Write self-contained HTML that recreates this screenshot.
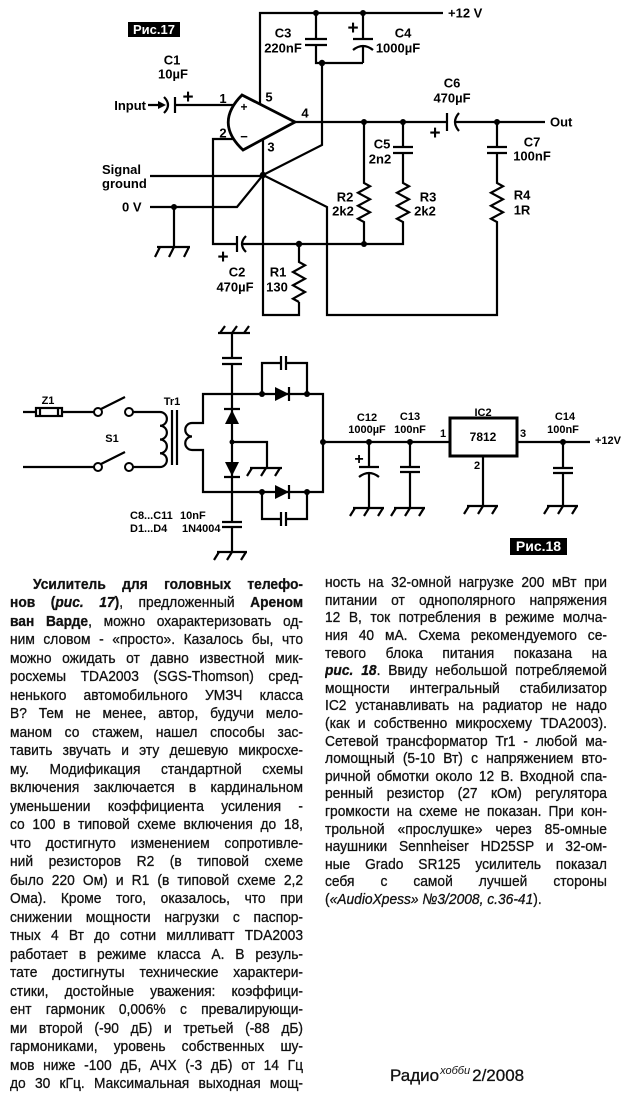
<!DOCTYPE html>
<html>
<head>
<meta charset="utf-8">
<style>
html,body{margin:0;padding:0;background:#fff;}
body{width:630px;height:1100px;position:relative;overflow:hidden;}
svg{position:absolute;left:0;top:0;}
.col{position:absolute;transform:scaleX(0.92);transform-origin:0 0;font-family:"Liberation Sans","DejaVu Sans",sans-serif;font-size:15px;color:#111;-webkit-text-stroke:0.3px #111;}
.col div{height:var(--lh);line-height:var(--lh);overflow:hidden;text-align:justify;text-align-last:justify;white-space:normal;}
.col div.last{text-align-last:left;}
#lc{left:10px;top:575.75px;width:318.5px;--lh:18.5px;}
#rc{left:325px;top:574.2px;width:306.5px;--lh:17.6px;}
.ind{text-indent:25px;}
#foot{position:absolute;left:390px;top:1066px;font-family:"Liberation Sans",sans-serif;font-size:17px;line-height:20px;color:#111;white-space:nowrap;-webkit-text-stroke:0.3px #111;}
#foot i{font-size:11px;position:relative;top:-7px;margin:0 2px 0 1px;-webkit-text-stroke:0;}
</style>
</head>
<body>
<svg width="630" height="570" viewBox="0 0 630 570" xmlns="http://www.w3.org/2000/svg">
<g stroke="#000" stroke-width="2.2" fill="none">
<!-- FIG 17 -->
<path d="M260,103 V13 H443"/>
<path d="M316,13 V39 M305,39 H327 M305,45 H327 M316,45 V63 H363"/>
<path d="M363,13 V39 M353,39 H373 M353,50 Q363,42 373,50 M363,46 V63"/>
<path d="M322,63 V145 L263,175"/>
<path d="M263,140 V315 H299 V302"/>
<path d="M299,244 V262 L305,265.3 L293,272 L305,278.7 L293,285.3 L305,292 L293,298.7 L299,302"/>
<path d="M295,122 H447 M447,113 V131 M459,113 Q451,122 459,131 M455,122 H545"/>
<path d="M364,122 V183 L370,186.3 L358,192.8 L370,199.3 L358,205.8 L370,212.3 L358,218.8 L364,222 V244"/>
<path d="M403,122 V147 M393,147 H413 M393,153 H413 M403,153 V183 L409,186.3 L397,192.8 L409,199.3 L397,205.8 L409,212.3 L397,218.8 L403,222 V244 H242"/>
<path d="M237,236 V252 M246,236 Q238,244 246,252 M237,244 H213 V139 H236"/>
<path d="M148,105 H160 M164,97 Q172,105 164,113 M175,97 V113 M175,105 H234"/>
<path d="M497,122 V147 M487,147 H507 M487,153 H507 M497,153 V183 L503,186.3 L491,192.8 L503,199.3 L491,205.8 L503,212.3 L491,218.8 L497,222 V315 H327 V207 L263,175"/>
<path d="M150,176 H263"/>
<path d="M150,207 H237 L263,175"/>
<path d="M174,207 V247 M157,247 H190 M160,247 l-5,10 M174,247 l-5,10 M189,247 l-5,10"/>
<path d="M242,95 L295,122 L243,150 Q214,123 242,95 Z" stroke-width="2.8" fill="#fff"/>

<!-- FIG 18 -->
<path d="M232,333 V358 M222,358 H242 M222,364 H242 M232,364 V394"/>
<path d="M218,333 H250 M220,333 l5,-7 M232,333 l5,-7 M244,333 l5,-7"/>
<path d="M192,423 H203 V394 H323 V492 H203 V450 H192"/>
<path d="M192,423 a6.75,6.75 0 0 0 0,13.5 a6.75,6.75 0 0 0 0,13.5"/>
<path d="M172,410 V465 M177,410 V465"/>
<path d="M133,412 H160 a6.875,6.875 0 0 1 0,13.75 a6.875,6.875 0 0 1 0,13.75 a6.875,6.875 0 0 1 0,13.75 a6.875,6.875 0 0 1 0,13.75 H133"/>
<path d="M101,409 L125,397 M101,464 L125,452"/>
<path d="M23,412 H36 M62,412 H94 M23,467 H94"/>
<rect x="36" y="408" width="26" height="8"/>
<path d="M40,408 V416 M58,408 V416"/>
<path d="M289,387 V401 M289,485 V499"/>
<path d="M262,394 V363 H281 M281,356 V370 M286,356 V370 M286,363 H307 V394"/>
<path d="M262,492 V519 H281 M281,512 V526 M286,512 V526 M286,519 H307 V492"/>
<path d="M232,394 V492 M224,409 H240 M224,477 H240"/>
<path d="M232,442 H267 V468 M250,468 H282 M252,468 l-5,8 M266,468 l-5,8 M280,468 l-5,8"/>
<path d="M232,492 V522 M222,522 H242 M222,527 H242 M232,527 V552 M217,552 H247 M219,552 l-5,8 M232,552 l-5,8 M246,552 l-5,8"/>
<path d="M323,442 H450 M517,442 H590"/>
<rect x="450" y="418" width="67" height="38" stroke-width="3"/>
<path d="M369,442 V467 M359,467 H379 M359,477 Q369,469 379,477 M369,473 V508 M353,508 H384 M355,508 l-5,8 M369,508 l-5,8 M383,508 l-5,8"/>
<path d="M410,442 V467 M400,467 H420 M400,472 H420 M410,472 V508 M394,508 H425 M396,508 l-5,8 M410,508 l-5,8 M424,508 l-5,8"/>
<path d="M483,456 V506 M467,506 H498 M469,506 l-5,8 M483,506 l-5,8 M497,506 l-5,8"/>
<path d="M563,442 V468 M553,468 H573 M553,473 H573 M563,473 V506 M547,506 H578 M549,506 l-5,8 M563,506 l-5,8 M577,506 l-5,8"/>
</g>
<g fill="#fff" stroke="#000" stroke-width="2">
<circle cx="98" cy="412" r="4"/><circle cx="129" cy="412" r="4"/>
<circle cx="98" cy="467" r="4"/><circle cx="129" cy="467" r="4"/>
</g>
<g fill="#000">
<polygon points="158,101 166,105 158,109"/>
<circle cx="316" cy="13" r="3"/><circle cx="363" cy="13" r="3"/><circle cx="322" cy="63" r="3.2"/>
<circle cx="263" cy="175" r="3.2"/><circle cx="174" cy="207" r="3"/>
<circle cx="364" cy="122" r="3"/><circle cx="403" cy="122" r="3"/><circle cx="497" cy="122" r="3"/>
<circle cx="299" cy="244" r="3.2"/><circle cx="364" cy="244" r="3"/>
<polygon points="275,387 289,394 275,401"/>
<polygon points="275,485 289,492 275,499"/>
<polygon points="225,424 239,424 232,410"/>
<polygon points="225,462 239,462 232,476"/>
<circle cx="262" cy="394" r="3"/><circle cx="307" cy="394" r="3"/>
<circle cx="262" cy="492" r="3"/><circle cx="307" cy="492" r="3"/>
<circle cx="232" cy="442" r="2.5"/>
<circle cx="323" cy="442" r="3"/><circle cx="369" cy="442" r="3"/><circle cx="410" cy="442" r="3"/><circle cx="563" cy="442" r="3"/>
<rect x="128" y="22" width="52" height="15"/>
<rect x="510" y="538" width="57" height="17"/>
</g>
<g font-family="Liberation Sans, sans-serif" font-weight="bold" font-size="13" fill="#000">
<text x="154" y="34" fill="#fff" text-anchor="middle" font-size="13">Рис.17</text>
<text x="538.5" y="551" fill="#fff" text-anchor="middle" font-size="14">Рис.18</text>
<g text-anchor="middle">
<text x="172" y="64.6">C1</text><text x="173" y="78.6">10µF</text>
<text x="223" y="103">1</text><text x="269" y="101.6">5</text><text x="305" y="117.6">4</text>
<text x="223" y="137.6">2</text><text x="271" y="151.6">3</text>
<text x="283" y="37.6">C3</text><text x="283" y="52.6">220nF</text>
<text x="403" y="37.6">C4</text><text x="398" y="52.6">1000µF</text>
<text x="452" y="87.6">C6</text><text x="452" y="102.6">470µF</text>
<text x="382" y="148.6">C5</text><text x="380" y="163.6">2n2</text>
<text x="532" y="146.6">C7</text><text x="532" y="160.6">100nF</text>
<text x="345" y="201.6">R2</text><text x="343" y="215.6">2k2</text>
<text x="428" y="201.6">R3</text><text x="425" y="215.6">2k2</text>
<text x="522" y="199.6">R4</text><text x="522" y="214.6">1R</text>
<text x="237" y="276.6">C2</text><text x="235" y="291.6">470µF</text>
<text x="278" y="276.6">R1</text><text x="277" y="291.6">130</text>
<text x="188" y="103" font-size="19">+</text>
<text x="353" y="34" font-size="19">+</text>
<text x="435" y="139" font-size="19">+</text>
<text x="223" y="263" font-size="19">+</text>
<text x="244" y="111" font-size="12">+</text>
<text x="244" y="141" font-size="13">−</text>
</g>
<text x="146" y="110" text-anchor="end">Input</text>
<text x="448" y="17.6">+12 V</text>
<text x="550" y="126.6">Out</text>
<text x="102" y="174">Signal</text>
<text x="102" y="188">ground</text>
<text x="122" y="211.6">0 V</text>
</g>
<g font-family="Liberation Sans, sans-serif" font-weight="bold" font-size="11" fill="#000">
<g text-anchor="middle">
<text x="48" y="404">Z1</text><text x="112" y="442">S1</text><text x="172" y="405">Tr1</text>
<text x="367" y="421">C12</text><text x="367" y="433">1000µF</text>
<text x="410" y="420">C13</text><text x="410" y="433">100nF</text>
<text x="483" y="416">IC2</text><text x="483" y="441" font-size="12">7812</text>
<text x="443" y="437">1</text><text x="523" y="437">3</text><text x="477" y="469">2</text>
<text x="565" y="420">C14</text><text x="563" y="433">100nF</text>
<text x="359" y="464" font-size="16">+</text>
</g>
<text x="130" y="519">C8...C11</text><text x="180" y="519">10nF</text>
<text x="130" y="532">D1...D4</text><text x="182" y="532">1N4004</text>
<text x="595" y="444">+12V</text>
</g>
</svg>

<div class="col" id="lc">
<div class="ind"><b>Усилитель для головных телефо-</b></div>
<div><b>нов (<i>рис. 17</i>)</b>, предложенный <b>Ареном</b></div>
<div><b>ван Варде</b>, можно охарактеризовать од-</div>
<div>ним словом - «просто». Казалось бы, что</div>
<div>можно ожидать от давно известной мик-</div>
<div>росхемы TDA2003 (SGS-Thomson) сред-</div>
<div>ненького автомобильного УМЗЧ класса</div>
<div>B? Тем не менее, автор, будучи мело-</div>
<div>маном со стажем, нашел способы зас-</div>
<div>тавить звучать и эту дешевую микросхе-</div>
<div>му. Модификация стандартной схемы</div>
<div>включения заключается в кардинальном</div>
<div>уменьшении коэффициента усиления -</div>
<div>со 100 в типовой схеме включения до 18,</div>
<div>что достигнуто изменением сопротивле-</div>
<div>ний резисторов R2 (в типовой схеме</div>
<div>было 220 Ом) и R1 (в типовой схеме 2,2</div>
<div>Ома). Кроме того, оказалось, что при</div>
<div>снижении мощности нагрузки с паспор-</div>
<div>тных 4 Вт до сотни милливатт TDA2003</div>
<div>работает в режиме класса А. В резуль-</div>
<div>тате достигнуты технические характери-</div>
<div>стики, достойные уважения: коэффици-</div>
<div>ент гармоник 0,006% с превалирующи-</div>
<div>ми второй (-90 дБ) и третьей (-88 дБ)</div>
<div>гармониками, уровень собственных шу-</div>
<div>мов ниже -100 дБ, АЧХ (-3 дБ) от 14 Гц</div>
<div>до 30 кГц. Максимальная выходная мощ-</div>
</div>

<div class="col" id="rc">
<div>ность на 32-омной нагрузке 200 мВт при</div>
<div>питании от однополярного напряжения</div>
<div>12 В, ток потребления в режиме молча-</div>
<div>ния 40 мА. Схема рекомендуемого се-</div>
<div>тевого блока питания показана на</div>
<div><b><i>рис. 18</i></b>. Ввиду небольшой потребляемой</div>
<div>мощности интегральный стабилизатор</div>
<div>IC2 устанавливать на радиатор не надо</div>
<div>(как и собственно микросхему TDA2003).</div>
<div>Сетевой трансформатор Tr1 - любой ма-</div>
<div>ломощный (5-10 Вт) с напряжением вто-</div>
<div>ричной обмотки около 12 В. Входной спа-</div>
<div>ренный резистор (27 кОм) регулятора</div>
<div>громкости на схеме не показан. При кон-</div>
<div>трольной «прослушке» через 85-омные</div>
<div>наушники Sennheiser HD25SP и 32-ом-</div>
<div>ные Grado SR125 усилитель показал</div>
<div>себя с самой лучшей стороны</div>
<div class="last">(<i>«AudioXpess» №3/2008, с.36-41</i>).</div>
</div>

<div id="foot">Радио<i>хобби</i>2/2008</div>
</body>
</html>
